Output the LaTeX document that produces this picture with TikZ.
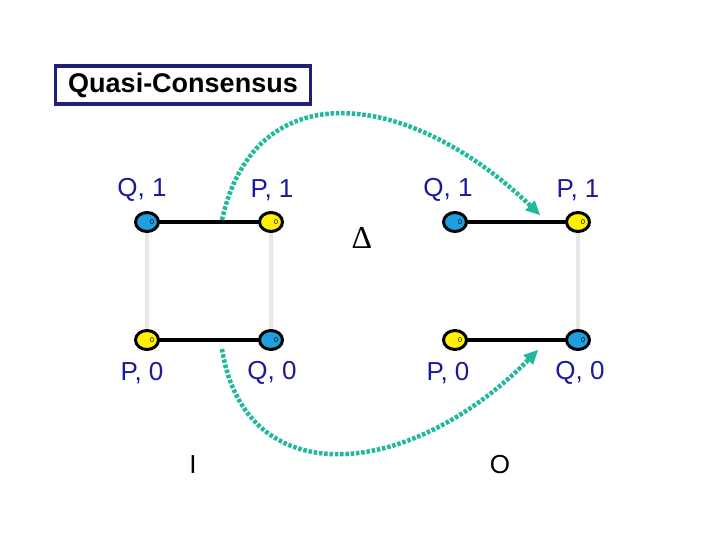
\documentclass[tikz,border=0pt]{standalone}
\usepackage{fontspec}
\setmainfont{Liberation Sans}
\newfontfamily\deltafont{Liberation Serif}
\usetikzlibrary{shapes.geometric,arrows.meta}
\definecolor{navy}{HTML}{1F1F7A}
\definecolor{lab}{HTML}{1A1A9A}
\definecolor{teal}{HTML}{22B89E}
\definecolor{qblue}{HTML}{1EA0E0}
\definecolor{pyel}{HTML}{FFEF00}
\tikzset{
  proc/.style={ellipse, draw=black, line width=3pt, minimum width=23pt, minimum height=19pt, inner sep=0pt},
  qn/.style={proc, fill=qblue},
  pn/.style={proc, fill=pyel},
  zero/.style={font=\fontsize{7}{7}\selectfont, inner sep=0pt},
  lbl/.style={text=lab, font=\fontsize{26}{26}\selectfont, inner sep=0pt},
  big/.style={font=\fontsize{26}{26}\selectfont, inner sep=0pt},
  edge/.style={line width=3.2pt, black},
  vert/.style={line width=3.5pt, color=black!9},
  flow/.style={teal, line width=4.5pt, dash pattern=on 3.5pt off 1.8pt, -{Triangle[length=14pt,width=14pt,line width=0pt]}}
}
\begin{document}
\begin{tikzpicture}[x=1pt,y=-1pt]
\useasboundingbox (0,0) rectangle (720,540);
% title
\node[draw=navy, line width=3.5pt, minimum width=255pt, minimum height=38pt, inner sep=0pt, font=\bfseries\fontsize{27}{27}\selectfont] (title) at (183,85) {Quasi-Consensus};
% positions
\coordinate (a1) at (147,222); \coordinate (b1) at (271,222);
\coordinate (c1) at (147,340); \coordinate (d1) at (271,340);
\coordinate (a2) at (455,222); \coordinate (b2) at (578,222);
\coordinate (c2) at (455,340); \coordinate (d2) at (578,340);
\draw[vert] (a1) -- (c1);
\draw[vert] (b1) -- (d1);
\draw[vert] (b2) -- (d2);
\draw[edge] (a1) -- (b1);
\draw[edge] (c1) -- (d1);
\draw[edge] (a2) -- (b2);
\draw[edge] (c2) -- (d2);
\node[qn] (n1) at (a1) {}; \node[zero] at ([xshift=5pt]n1.center) {0};
\node[pn] (n2) at (b1) {}; \node[zero] at ([xshift=5pt]n2.center) {0};
\node[pn] (n3) at (c1) {}; \node[zero] at ([xshift=5pt]n3.center) {0};
\node[qn] (n4) at (d1) {}; \node[zero] at ([xshift=5pt]n4.center) {0};
\node[qn] (m1) at (a2) {}; \node[zero] at ([xshift=5pt]m1.center) {0};
\node[pn] (m2) at (b2) {}; \node[zero] at ([xshift=5pt]m2.center) {0};
\node[pn] (m3) at (c2) {}; \node[zero] at ([xshift=5pt]m3.center) {0};
\node[qn] (m4) at (d2) {}; \node[zero] at ([xshift=5pt]m4.center) {0};
% labels
\node[lbl] (l1) at (142,190) {Q, 1};
\node[lbl] (l2) at (272,190) {P, 1};
\node[lbl] (l3) at (142,373) {P, 0};
\node[lbl] (l4) at (272,373) {Q, 0};
\node[lbl] (l5) at (448,190) {Q, 1};
\node[lbl] (l6) at (578,190) {P, 1};
\node[lbl] (l7) at (448,373) {P, 0};
\node[lbl] (l8) at (580,373) {Q, 0};
\node[font=\deltafont\fontsize{32}{32}\selectfont, inner sep=0pt] (delta) at (362,238) {Δ};
\node[big] (inI) at (193,465) {I};
\node[big] (outO) at (500,465) {O};
% flows
\coordinate (s1) at (222,220);
\coordinate (t1) at (540,215);
\coordinate (s2) at (222,349);
\coordinate (t2) at (538,350);
\draw[flow] (s1) .. controls (255,70) and (410,90) .. (t1);
\draw[flow] (s2) .. controls (245,495) and (410,480) .. (t2);
\end{tikzpicture}
\end{document}
